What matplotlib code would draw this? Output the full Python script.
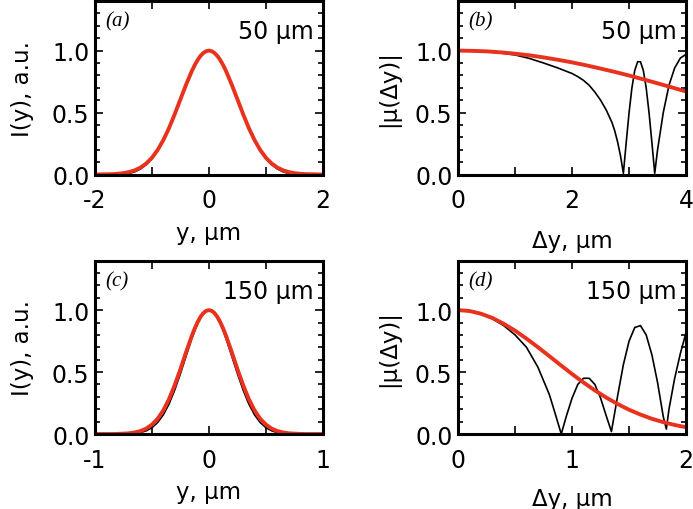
import numpy as np
import matplotlib
matplotlib.use('Agg')
import matplotlib.pyplot as plt
from matplotlib.ticker import MultipleLocator

# panel (a): intensity, 50 um
ya = [-2.0, -1.9, -1.8, -1.7, -1.6, -1.5, -1.4, -1.3, -1.2, -1.1, -1.0, -0.9, -0.8, -0.7, -0.6, -0.5, -0.4, -0.3, -0.25, -0.2, -0.15, -0.1, -0.05,
      0.0, 0.05, 0.1, 0.15, 0.2, 0.25, 0.3, 0.4, 0.5, 0.6, 0.7, 0.8, 0.9, 1.0, 1.1, 1.2, 1.3, 1.4, 1.5, 1.6, 1.7, 1.8, 1.9, 2.0]
Ia_red = [0.000, 0.001, 0.002, 0.003, 0.006, 0.011, 0.020, 0.034, 0.056, 0.089, 0.135, 0.198, 0.278, 0.375, 0.487, 0.607, 0.726, 0.835, 0.882, 0.923, 0.956, 0.980, 0.995,
          1.000, 0.995, 0.980, 0.956, 0.923, 0.882, 0.835, 0.726, 0.607, 0.487, 0.375, 0.278, 0.198, 0.135, 0.089, 0.056, 0.034, 0.020, 0.011, 0.006, 0.003, 0.002, 0.001, 0.000]
Ia_black = [0.000, 0.000, 0.000, 0.000, 0.001, 0.003, 0.009, 0.022, 0.045, 0.080, 0.128, 0.192, 0.274, 0.372, 0.485, 0.606, 0.726, 0.835, 0.882, 0.923, 0.956, 0.980, 0.995,
            1.000, 0.995, 0.980, 0.956, 0.923, 0.882, 0.835, 0.726, 0.606, 0.485, 0.372, 0.274, 0.192, 0.128, 0.080, 0.045, 0.022, 0.009, 0.003, 0.001, 0.000, 0.000, 0.000, 0.000]

# panel (b): coherence, 50 um
db_black = [0.0, 0.25, 0.5, 0.75, 1.0, 1.25, 1.5, 1.75, 2.0, 2.1, 2.2, 2.3, 2.4, 2.5, 2.6, 2.7, 2.75, 2.8, 2.85, 2.9,
            2.95, 3.0, 3.05, 3.1, 3.15, 3.2, 3.25, 3.3, 3.35, 3.4, 3.45, 3.5, 3.6, 3.7, 3.8, 3.9, 4.0]
mub_black = [1.0, 0.998, 0.991, 0.98, 0.965, 0.937, 0.90, 0.86, 0.815, 0.79, 0.76, 0.72, 0.665, 0.60, 0.52, 0.42, 0.35, 0.26, 0.15, 0.01,
             0.26, 0.50, 0.70, 0.84, 0.91, 0.91, 0.84, 0.70, 0.50, 0.26, 0.01, 0.20, 0.50, 0.72, 0.86, 0.94, 0.97]
db_red = [0.0, 0.25, 0.5, 0.75, 1.0, 1.25, 1.5, 1.75, 2.0, 2.25, 2.5, 2.75, 3.0, 3.25, 3.5, 3.75, 4.0]
mub_red = [1.0, 0.998, 0.994, 0.986, 0.975, 0.962, 0.945, 0.926, 0.905, 0.881, 0.855, 0.828, 0.799, 0.768, 0.736, 0.703, 0.670]

# panel (c): intensity, 150 um
yc = [-1.0, -0.95, -0.9, -0.85, -0.8, -0.75, -0.7, -0.65, -0.6, -0.55, -0.5, -0.45, -0.4, -0.35, -0.3, -0.25, -0.2, -0.15, -0.125, -0.1, -0.075, -0.05, -0.025,
      0.0, 0.025, 0.05, 0.075, 0.1, 0.125, 0.15, 0.2, 0.25, 0.3, 0.35, 0.4, 0.45, 0.5, 0.55, 0.6, 0.65, 0.7, 0.75, 0.8, 0.85, 0.9, 0.95, 1.0]
Ic_red = [0.000, 0.000, 0.000, 0.000, 0.001, 0.003, 0.006, 0.013, 0.024, 0.044, 0.076, 0.123, 0.191, 0.282, 0.395, 0.524, 0.662, 0.793, 0.851, 0.902, 0.944, 0.975, 0.994,
          1.000, 0.994, 0.975, 0.944, 0.902, 0.851, 0.793, 0.662, 0.524, 0.395, 0.282, 0.191, 0.123, 0.076, 0.044, 0.024, 0.013, 0.006, 0.003, 0.001, 0.000, 0.000, 0.000, 0.000]
Ic_black = [0.000, 0.000, 0.000, 0.000, 0.000, 0.001, 0.002, 0.005, 0.012, 0.026, 0.051, 0.093, 0.155, 0.242, 0.355, 0.487, 0.630, 0.770, 0.833, 0.890, 0.935, 0.972, 0.993,
            1.000, 0.993, 0.972, 0.935, 0.890, 0.833, 0.770, 0.630, 0.487, 0.355, 0.242, 0.155, 0.093, 0.051, 0.026, 0.012, 0.005, 0.002, 0.001, 0.000, 0.000, 0.000, 0.000, 0.000]

# panel (d): coherence, 150 um
dd_black = [0.0, 0.1, 0.2, 0.3, 0.4, 0.5, 0.6, 0.7, 0.8, 0.85, 0.905, 0.95, 1.0, 1.05, 1.1, 1.15, 1.2, 1.25, 1.3, 1.345,
            1.4, 1.45, 1.5, 1.55, 1.6, 1.65, 1.7, 1.75, 1.8, 1.827, 1.85, 1.9, 1.95, 2.0]
mud_black = [1.0, 0.992, 0.97, 0.93, 0.875, 0.80, 0.70, 0.54, 0.32, 0.17, 0.0, 0.145, 0.29, 0.40, 0.45, 0.45, 0.40, 0.29, 0.146, 0.02,
             0.31, 0.56, 0.75, 0.86, 0.875, 0.80, 0.64, 0.415, 0.14, 0.04, 0.2, 0.45, 0.65, 0.82]
dd_red = [0.0, 0.1, 0.2, 0.3, 0.4, 0.5, 0.6, 0.7, 0.8, 0.9, 1.0, 1.1, 1.2, 1.3, 1.4, 1.5, 1.6, 1.7, 1.8, 1.9, 2.0]
mud_red = [1.0, 0.993, 0.971, 0.937, 0.890, 0.834, 0.770, 0.701, 0.629, 0.556, 0.484, 0.416, 0.352, 0.294, 0.242, 0.196, 0.157, 0.123, 0.096, 0.073, 0.055]

panels = [
    (ya, Ia_black, ya, Ia_red, (-2, 2), [-2, -1, 0, 1, 2], ['-2', '', '0', '', '2'], 'y, \u03bcm', 'I(y), a.u.', '(a)', '50 \u03bcm'),
    (db_black, mub_black, db_red, mub_red, (0, 4), [0, 1, 2, 3, 4], ['0', '', '2', '', '4'], '\u0394y, \u03bcm', '|\u03bc(\u0394y)|', '(b)', '50 \u03bcm'),
    (yc, Ic_black, yc, Ic_red, (-1, 1), [-1, -0.5, 0, 0.5, 1], ['-1', '', '0', '', '1'], 'y, \u03bcm', 'I(y), a.u.', '(c)', '150 \u03bcm'),
    (dd_black, mud_black, dd_red, mud_red, (0, 2), [0, 0.5, 1, 1.5, 2], ['0', '', '1', '', '2'], '\u0394y, \u03bcm', '|\u03bc(\u0394y)|', '(d)', '150 \u03bcm'),
]
xlabelpads = [6, 12, 6, 11]
ylabelpads = [13, 11, 13, 11]

red = '#e8321e'

fig, axs = plt.subplots(2, 2, figsize=(6.93, 5.1), dpi=100)
fig.subplots_adjust(left=0.137, right=0.99, top=0.996, bottom=0.147, wspace=0.593, hspace=0.496)

for i, ax in enumerate(axs.flat):
    xb, yb, xr, yr, xlim, xt, xtl, xl, yl, tag, dist = panels[i]
    ax.plot(xb, yb, color='black', lw=1.2)
    ax.plot(xr, yr, color=red, lw=2.8)
    ax.set_xlim(*xlim)
    ax.set_ylim(0, 1.4)
    ax.set_xticks(xt)
    ax.set_xticklabels(xtl)
    ax.set_yticks([0, 0.5, 1.0])
    ax.set_yticklabels(['0.0', '0.5', '1.0'])
    ax.yaxis.set_minor_locator(MultipleLocator(0.1))
    ax.tick_params(which='both', direction='in', top=True, right=True, width=1.2, labelsize=17)
    ax.tick_params(which='major', length=6)
    ax.tick_params(which='minor', length=3.5)
    ax.tick_params(axis='x', pad=10)
    ax.tick_params(axis='y', pad=4)
    for s in ax.spines.values():
        s.set_linewidth(2.2)
    ax.set_xlabel(xl, fontsize=16.5, labelpad=xlabelpads[i])
    ax.set_ylabel(yl, fontsize=16.5, labelpad=ylabelpads[i])
    ax.text(0.045, 0.885, tag, transform=ax.transAxes, fontsize=15, family='Liberation Serif',
            style='italic', ha='left', va='center')
    ax.text(0.96, 0.825, dist, transform=ax.transAxes, fontsize=17, ha='right', va='center')

fig.savefig('out.png', dpi=100)
